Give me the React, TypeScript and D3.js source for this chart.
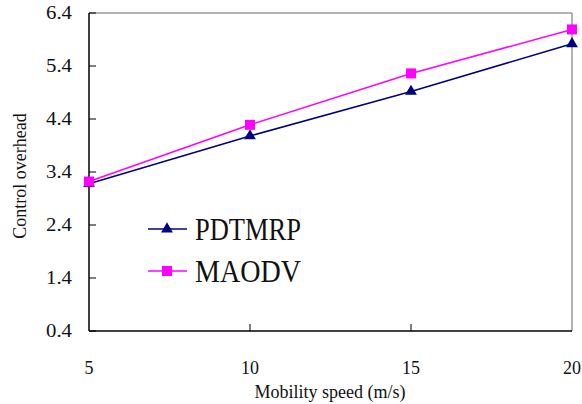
import React from "react";
import * as d3 from "d3";

// mobility speed (m/s)
const speeds = [5, 10, 15, 20];
const pdtmrp = [3.18, 4.08, 4.92, 5.82];
const maodv = [3.22, 4.29, 5.26, 6.09];
const yTicks = [0.4, 1.4, 2.4, 3.4, 4.4, 5.4, 6.4];
const xTicks = [5, 10, 15, 20];

const W = 582, H = 404;
const left = 89, right = 572, top = 13, bottom = 331;

export default function App() {
  const x = d3.scaleLinear().domain([5, 20]).range([left, right]);
  const y = d3.scaleLinear().domain([0.4, 6.4]).range([bottom, top]);
  const line = d3.line<number>().x((_, i) => x(speeds[i])).y((d) => y(d));

  const tri = d3.symbol().type(d3.symbolTriangle).size(60)()!;
  const sq = (cx: number, cy: number, key: string) => (
    <rect key={key} x={cx - 5} y={cy - 5} width={10} height={10} fill="#FF00FF" />
  );

  const legend = [
    { name: "PDTMRP", color: "#000080", ly: 229, marker: "tri" },
    { name: "MAODV", color: "#FF00FF", ly: 271, marker: "sq" },
  ];

  return (
    <svg width={W} height={H} style={{ position: "absolute", left: 0, top: 0, background: "#fff" }}>
      <style>{`text { font-family: "Liberation Serif", "Times New Roman", Tinos, serif; fill: #111; }`}</style>
      {/* frame */}
      <line x1={left} y1={top} x2={right} y2={top} stroke="#999" strokeWidth={1.5} />
      <line x1={right} y1={top} x2={right} y2={bottom} stroke="#999" strokeWidth={1.5} />
      <line x1={left} y1={top} x2={left} y2={bottom} stroke="#000" strokeWidth={1.5} />
      <line x1={left} y1={bottom} x2={right} y2={bottom} stroke="#000" strokeWidth={1.5} />

      {yTicks.map((t) => (
        <g key={"y" + t}>
          <line x1={left} x2={left + 7} y1={y(t)} y2={y(t)} stroke="#000" strokeWidth={1} />
          <text x={72} y={y(t)} dy="0.35em" textAnchor="end" fontSize={18} textLength={26}
            lengthAdjust="spacingAndGlyphs">
            {t.toFixed(1)}
          </text>
        </g>
      ))}
      {xTicks.map((t) => (
        <g key={"x" + t}>
          {t > 5 && t < 20 && (
            <line x1={x(t)} x2={x(t)} y1={bottom} y2={bottom - 7} stroke="#000" strokeWidth={1} />
          )}
          <text x={x(t)} y={374} textAnchor="middle" fontSize={18}>
            {t}
          </text>
        </g>
      ))}

      <text x={330} y={398} textAnchor="middle" fontSize={18}>
        Mobility speed (m/s)
      </text>
      <text transform="translate(26,176) rotate(-90)" textAnchor="middle" fontSize={18}>
        Control overhead
      </text>

      {/* series */}
      <path d={line(pdtmrp)!} fill="none" stroke="#000080" strokeWidth={1.5} />
      <path d={line(maodv)!} fill="none" stroke="#FF00FF" strokeWidth={1.5} />
      {pdtmrp.map((v, i) => (
        <path key={"p" + i} d={tri} transform={`translate(${x(speeds[i])},${y(v)})`} fill="#000080" />
      ))}
      {maodv.map((v, i) => sq(x(speeds[i]), y(v), "m" + i))}

      {/* legend */}
      {legend.map((l) => (
        <g key={l.name}>
          <line x1={148} x2={187} y1={l.ly} y2={l.ly} stroke={l.color} strokeWidth={1.5} />
          {l.marker === "tri" ? (
            <path d={tri} transform={`translate(167,${l.ly})`} fill={l.color} />
          ) : (
            sq(167, l.ly, "lg")
          )}
          <text x={195} y={l.ly + 11} fontSize={31} textLength={106} lengthAdjust="spacingAndGlyphs">
            {l.name}
          </text>
        </g>
      ))}
    </svg>
  );
}
